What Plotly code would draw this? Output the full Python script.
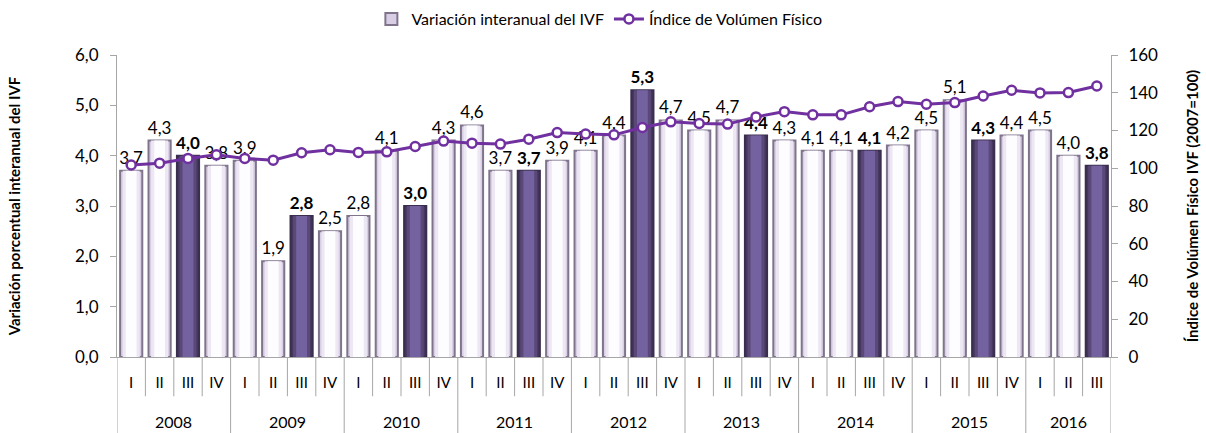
import plotly.graph_objects as go

# ---------------- data ----------------
anios = ["2008", "2009", "2010", "2011", "2012", "2013", "2014", "2015", "2016"]
trimestres = ["I", "II", "III", "IV"]
trimestres_2016 = ["I", "II", "III"]

variacion = [3.7, 4.3, 4.0, 3.8,
             3.9, 1.9, 2.8, 2.5,
             2.8, 4.1, 3.0, 4.3,
             4.6, 3.7, 3.7, 3.9,
             4.1, 4.4, 5.3, 4.7,
             4.5, 4.7, 4.4, 4.3,
             4.1, 4.1, 4.1, 4.2,
             4.5, 5.1, 4.3, 4.4,
             4.5, 4.0, 3.8]

ivf = [101.7, 102.7, 105.2, 107.1,
       105.2, 104.3, 108.2, 109.8,
       108.4, 108.7, 111.5, 114.4,
       113.3, 112.8, 115.4, 118.9,
       118.1, 117.7, 121.6, 124.6,
       123.7, 123.4, 127.2, 130.0,
       128.3, 128.3, 132.6, 135.3,
       133.9, 134.8, 138.3, 141.3,
       139.9, 140.1, 143.6]

trimestre_destacado = "III"

# ---------------- categories ----------------
x_trim, year_start, year_count = [], [], []
for a in anios:
    qs = trimestres_2016 if a == "2016" else trimestres
    year_start.append(len(x_trim))
    year_count.append(len(qs))
    x_trim.extend(qs)
n = len(x_trim)
xi = list(range(n))
year_centers = [s + (c - 1) / 2 for s, c in zip(year_start, year_count)]

light_y = [v if q != trimestre_destacado else None for v, q in zip(variacion, x_trim)]
dark_y = [v if q == trimestre_destacado else None for v, q in zip(variacion, x_trim)]

FONT = "Lato"
fig = go.Figure()

# layered bars to mimic the 3D gradient
light_layers = [(0.78, "#d8cfe4"), (0.60, "#ece7f3"), (0.38, "#fdfcff")]
dark_layers = [(0.78, "#45375d"), (0.60, "#5a4879"), (0.38, "#7462a0")]

for i, (w, c) in enumerate(light_layers):
    fig.add_trace(go.Bar(
        x=xi, y=light_y, width=w, marker_color=c,
        marker_line=dict(color="#7f748c", width=2 if i == 0 else 0),
        name="Variación interanual del IVF", showlegend=(i == 0),
        texttemplate="%{y:.1f}" if i == 0 else None,
        textposition="outside" if i == 0 else "none",
        constraintext="none", cliponaxis=False,
        textfont=dict(size=17, color="#000000", family=FONT),
        hoverinfo="skip", yaxis="y"))

for i, (w, c) in enumerate(dark_layers):
    fig.add_trace(go.Bar(
        x=xi, y=dark_y, width=w, marker_color=c,
        marker_line=dict(color="#3a2e4f", width=2 if i == 0 else 0),
        name="Variación interanual del IVF", showlegend=False,
        texttemplate="<b>%{y:.1f}</b>" if i == 0 else None,
        textposition="outside" if i == 0 else "none",
        constraintext="none", cliponaxis=False,
        textfont=dict(size=17, color="#000000", family=FONT),
        hoverinfo="skip", yaxis="y"))

fig.add_trace(go.Scatter(
    x=xi, y=ivf, mode="lines+markers", name="Índice de Volúmen Físico",
    line=dict(color="#7030a0", width=3),
    marker=dict(size=9, color="#ffffff", line=dict(color="#7030a0", width=2.5)),
    cliponaxis=False, yaxis="y2"))

axis_col = "#a6a6a6"

# separators below the axis (quarters short, years long)
shapes = []
for i in range(n + 1):
    is_year = (i in year_start) or i == n
    shapes.append(dict(type="line", xref="x", yref="paper",
                       x0=i - 0.5, x1=i - 0.5, y0=0, y1=-0.27 if is_year else -0.13,
                       line=dict(color=axis_col, width=1)))

annotations = [dict(x=c, y=-0.212, xref="x", yref="paper", text=a, showarrow=False,
                    yanchor="middle", font=dict(size=16, family=FONT, color="#000000"))
               for a, c in zip(anios, year_centers)]

fig.update_layout(
    width=1206, height=433,
    margin=dict(l=117, r=95, t=55, b=76),
    paper_bgcolor="#ffffff", plot_bgcolor="#ffffff",
    barmode="overlay",
    separators=",.",
    font=dict(family=FONT, size=15, color="#000000"),
    shapes=shapes, annotations=annotations,
    legend=dict(orientation="h", x=0.497, xref="container", xanchor="center",
                y=1 - 19 / 433, yref="container", yanchor="middle",
                font=dict(size=16, family=FONT), bgcolor="rgba(0,0,0,0)"),
    xaxis=dict(range=[-0.5, n - 0.5], tickvals=xi, ticktext=x_trim,
               showline=True, linecolor=axis_col, linewidth=1, ticks="",
               showgrid=False, zeroline=False, automargin=False,
               ticklabelstandoff=12, tickfont=dict(size=15, family=FONT)),
    yaxis=dict(range=[0, 6], dtick=1, tickformat=".1f",
               showline=True, linecolor=axis_col, linewidth=1,
               ticks="outside", ticklen=6, tickcolor=axis_col,
               showgrid=False, zeroline=False, automargin=False,
               ticklabelstandoff=8,
               tickfont=dict(size=17, family=FONT),
               title=dict(text="<b>Variación porcentual interanual del IVF</b>",
                          font=dict(size=15, family=FONT), standoff=50)),
    yaxis2=dict(range=[0, 160], dtick=20, overlaying="y", side="right",
                showline=True, linecolor=axis_col, linewidth=1,
                ticks="outside", ticklen=6, tickcolor=axis_col,
                showgrid=False, zeroline=False, automargin=False,
                ticklabelstandoff=7,
                tickfont=dict(size=17, family=FONT),
                title=dict(text="<b>Índice de Volúmen Físico IVF (2007=100)</b>",
                           font=dict(size=15, family=FONT), standoff=30)),
)

fig.write_html("out.html", config={"displayModeBar": False},
               post_script="document.body.style.margin='0';document.body.style.overflow='hidden';")
